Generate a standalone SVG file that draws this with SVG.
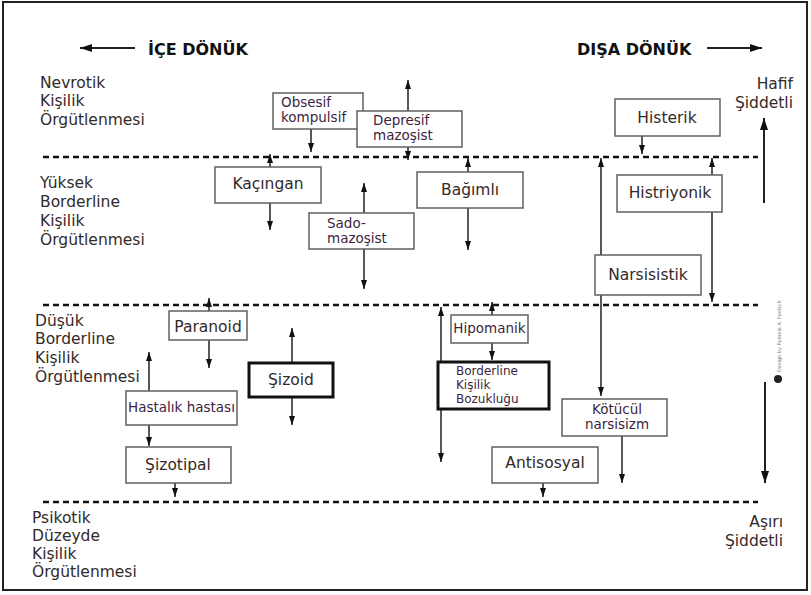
<svg xmlns="http://www.w3.org/2000/svg" width="811" height="595" viewBox="0 0 811 595">
<defs>
<style>
text{font-family:"DejaVu Sans","Noto Sans",sans-serif;fill:#332a2a}
.lbl{font-size:15.5px}
.bt{font-size:15.5px}
.sm{font-size:13.5px;fill:#3d1f40}
.xs{font-size:12.5px;fill:#3d1f40}
.hd{font-size:16px;font-weight:bold;fill:#111}
.box{fill:#fff;stroke:#606060;stroke-width:1.5}
.tbox{fill:#fff;stroke:#111;stroke-width:3}
.dash{stroke:#111;stroke-width:2.5;stroke-dasharray:6 4;fill:none}
.ar{stroke:#222;stroke-width:1.5;fill:none;marker-end:url(#ah)}
.arL{stroke:#222;stroke-width:2;fill:none;marker-end:url(#ahL)}
</style>
<marker id="ah" viewBox="0 0 9 6" refX="9" refY="3" markerWidth="9" markerHeight="6" orient="auto" markerUnits="userSpaceOnUse"><path d="M0,0 L9,3 L0,6 z" fill="#111"/></marker>
<marker id="ahs" viewBox="0 0 9 6" refX="0" refY="3" markerWidth="9" markerHeight="6" orient="auto" markerUnits="userSpaceOnUse"><path d="M9,0 L0,3 L9,6 z" fill="#111"/></marker>
<marker id="ahL" viewBox="0 0 12 8" refX="12" refY="4" markerWidth="12" markerHeight="8" orient="auto" markerUnits="userSpaceOnUse"><path d="M0,0 L12,4 L0,8 z" fill="#111"/></marker>
</defs>
<rect x="0" y="0" width="811" height="595" fill="#fff"/>
<rect x="3" y="2" width="804" height="588" fill="none" stroke="#222" stroke-width="2"/>

<g id="headers">
<text class="hd" x="148" y="55">İÇE DÖNÜK</text>
<text class="hd" x="577" y="55">DIŞA DÖNÜK</text>
</g>

<g id="levels">
<text class="lbl" x="40" y="88">Nevrotik</text>
<text class="lbl" x="40" y="106">Kişilik</text>
<text class="lbl" x="40" y="125">Örgütlenmesi</text>
<text class="lbl" x="40" y="188">Yüksek</text>
<text class="lbl" x="40" y="207">Borderline</text>
<text class="lbl" x="40" y="226">Kişilik</text>
<text class="lbl" x="40" y="245">Örgütlenmesi</text>
<text class="lbl" x="35" y="326">Düşük</text>
<text class="lbl" x="35" y="344">Borderline</text>
<text class="lbl" x="35" y="363">Kişilik</text>
<text class="lbl" x="35" y="382">Örgütlenmesi</text>
<text class="lbl" x="32" y="523">Psikotik</text>
<text class="lbl" x="32" y="541">Düzeyde</text>
<text class="lbl" x="32" y="559">Kişilik</text>
<text class="lbl" x="32" y="577">Örgütlenmesi</text>
<text class="lbl" x="793" y="89" text-anchor="end">Hafif</text>
<text class="lbl" x="793" y="108" text-anchor="end">Şiddetli</text>
<text class="lbl" x="783" y="527" text-anchor="end">Aşırı</text>
<text class="lbl" x="783" y="546" text-anchor="end">Şiddetli</text>
</g>

<g id="watermark">
<text x="0" y="0" transform="translate(781,372) rotate(-90)" style="font-size:5px;fill:#777">Design by Pamela A. Foelsch</text>
<circle cx="778" cy="379" r="4" fill="#222"/>
</g>

<g id="dividers">
<line class="dash" x1="43" y1="157" x2="758" y2="157"/>
<line class="dash" x1="43" y1="305" x2="758" y2="305"/>
<line class="dash" x1="43" y1="502" x2="758" y2="502"/>
</g>

<g id="connectors">
<line class="arL" x1="135" y1="48" x2="80" y2="48"/>
<line class="arL" x1="707" y1="48" x2="762" y2="48"/>
<line class="arL" x1="764" y1="203" x2="764" y2="118"/>
<line class="arL" x1="765" y1="382" x2="765" y2="483"/>
<line class="ar" x1="311" y1="129" x2="311" y2="152"/>
<line class="ar" x1="408" y1="111" x2="408" y2="80"/>
<line class="ar" x1="408" y1="147" x2="408" y2="160"/>
<line class="ar" x1="642" y1="136" x2="642" y2="154"/>
<line class="ar" x1="270" y1="167" x2="270" y2="154"/>
<line class="ar" x1="270" y1="203" x2="270" y2="230"/>
<line class="ar" x1="364" y1="213" x2="364" y2="183"/>
<line class="ar" x1="364" y1="249" x2="364" y2="289"/>
<line class="ar" x1="468" y1="172" x2="468" y2="158"/>
<line class="ar" x1="468" y1="208" x2="468" y2="250"/>
<line class="ar" x1="712" y1="175" x2="712" y2="158"/>
<line class="ar" x1="712" y1="212" x2="712" y2="302"/>
<line class="ar" x1="601" y1="255" x2="601" y2="158"/>
<line class="ar" x1="601" y1="295" x2="601" y2="396"/>
<line class="ar" x1="622" y1="436" x2="622" y2="483"/>
<line class="ar" x1="209" y1="311" x2="209" y2="298"/>
<line class="ar" x1="209" y1="340" x2="209" y2="368"/>
<line class="ar" x1="292" y1="363" x2="292" y2="328"/>
<line class="ar" x1="292" y1="397" x2="292" y2="425"/>
<line class="ar" x1="149" y1="391" x2="149" y2="352"/>
<line class="ar" x1="149" y1="425" x2="149" y2="446"/>
<line class="ar" x1="175" y1="483" x2="175" y2="497"/>
<line class="ar" x1="492" y1="315" x2="492" y2="302"/>
<line class="ar" x1="492" y1="343" x2="492" y2="360"/>
<line class="ar" x1="441" y1="307" x2="441" y2="462" style="marker-start:url(#ahs)"/>
<line class="ar" x1="543" y1="483" x2="543" y2="497"/>
</g>

<g id="obsesif"><rect class="box" x="273" y="93" width="90" height="36"/><text class="sm" x="281" y="107">Obsesif</text><text class="sm" x="281" y="122">kompulsif</text></g>
<g id="depresif"><rect class="box" x="357" y="111" width="105" height="36"/><text class="sm" x="373" y="125">Depresif</text><text class="sm" x="373" y="140">mazoşist</text></g>
<g id="histerik"><rect class="box" x="615" y="99" width="105" height="37"/><text class="bt" x="667" y="123" text-anchor="middle">Histerik</text></g>
<g id="kacingan"><rect class="box" x="215" y="167" width="106" height="36"/><text class="bt" x="268" y="189" text-anchor="middle">Kaçıngan</text></g>
<g id="sadomazosist"><rect class="box" x="309" y="213" width="105" height="36"/><text class="sm" x="327" y="228">Sado-</text><text class="sm" x="327" y="243">mazoşist</text></g>
<g id="bagimli"><rect class="box" x="417" y="172" width="106" height="36"/><text class="bt" x="470" y="195" text-anchor="middle">Bağımlı</text></g>
<g id="histriyonik"><rect class="box" x="617" y="175" width="105" height="37"/><text class="bt" x="670" y="198" text-anchor="middle">Histriyonik</text></g>
<g id="narsisistik"><rect class="box" x="595" y="255" width="106" height="40"/><text class="bt" x="648" y="280" text-anchor="middle">Narsisistik</text></g>
<g id="paranoid"><rect class="box" x="169" y="311" width="78" height="29"/><text class="bt" x="208" y="332" text-anchor="middle">Paranoid</text></g>
<g id="sizoid"><rect class="tbox" x="249" y="363" width="84" height="34"/><text class="bt" x="291" y="385" text-anchor="middle">Şizoid</text></g>
<g id="hastalik"><rect class="box" x="126" y="391" width="111" height="34"/><text class="sm" x="181.5" y="412" text-anchor="middle">Hastalık hastası</text></g>
<g id="sizotipal"><rect class="box" x="126" y="447" width="105" height="36"/><text class="bt" x="178" y="470" text-anchor="middle">Şizotipal</text></g>
<g id="hipomanik"><rect class="box" x="451" y="315" width="77" height="28"/><text class="sm" x="489.5" y="333" text-anchor="middle">Hipomanik</text></g>
<g id="borderline"><rect class="tbox" x="438" y="362" width="111" height="47"/><text class="xs" x="456" y="375" style="font-size:12px">Borderline</text><text class="xs" x="456" y="389" style="font-size:12px">Kişilik</text><text class="xs" x="456" y="403" style="font-size:12px">Bozukluğu</text></g>
<g id="kotucul"><rect class="box" x="562" y="399" width="105" height="37"/><text class="sm" x="617" y="414" text-anchor="middle">Kötücül</text><text class="sm" x="617" y="429" text-anchor="middle">narsisizm</text></g>
<g id="antisosyal"><rect class="box" x="492" y="447" width="106" height="36"/><text class="bt" x="545" y="468" text-anchor="middle">Antisosyal</text></g>
</svg>
